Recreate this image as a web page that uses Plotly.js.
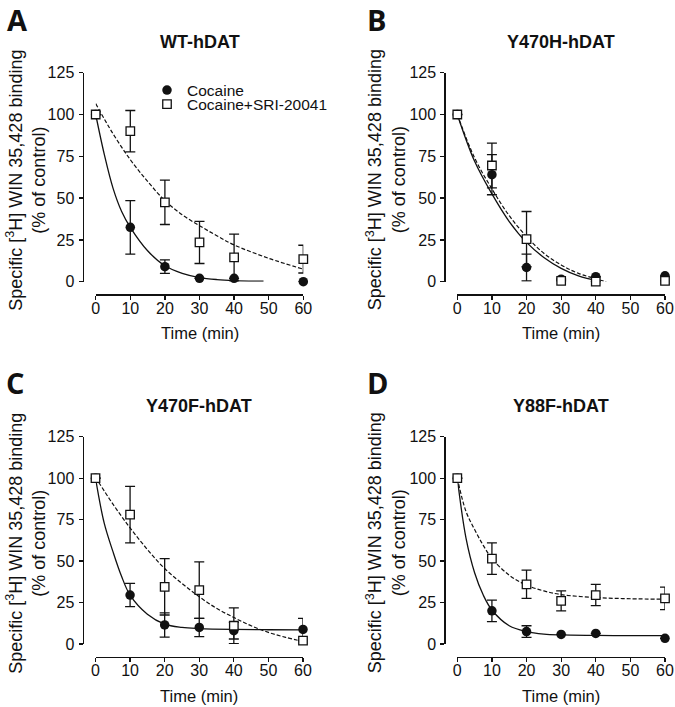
<!DOCTYPE html>
<html>
<head>
<meta charset="utf-8">
<script src="https://cdn.plot.ly/plotly-3.0.1.min.js"></script>
<style>html,body{margin:0;padding:0;background:#fff;}#chart{width:675px;height:707px;}</style>
</head>
<body>
<div id="chart"></div>
<script>
// ---------- data ----------
const times = [0, 10, 20, 30, 40, 60];
const xTicks = [0, 10, 20, 30, 40, 50, 60];
const yTicks = [0, 25, 50, 75, 100, 125];
const seriesNames = ['Cocaine', 'Cocaine+SRI-20041'];
const panelTitles = ['WT-hDAT', 'Y470H-hDAT', 'Y470F-hDAT', 'Y88F-hDAT'];
const panelLetters = ['A', 'B', 'C', 'D'];

// Panel A (WT-hDAT)
const cocA = [100, 32.5, 9, 2, 2, 0];
const errCocA = [null, 16, 4, null, null, null];
const sriA = [100, 90, 47.5, 23.5, 14.5, 13.5];
const errSriA = [null, 12.4, 13.3, 12.6, 14, 8.3];
const fitCocAx = [0, 2.5, 5, 7.5, 10, 15, 20, 25, 30, 35, 40, 48.5];
const fitCocAy = [100, 76, 56, 42, 32.5, 18.5, 9.5, 5, 2.5, 1.3, 0.7, 0.3];
const fitSriAx = [0, 5, 10, 15, 20, 25, 30, 35, 40, 50, 60];
const fitSriAy = [106.5, 88.5, 73, 60, 48.5, 40, 33.5, 27.5, 22, 14, 7.5];

// Panel B (Y470H-hDAT)
const cocB = [100, 64, 8.5, 1.5, 3, 3.5];
const errCocB = [null, 12, 8, null, null, null];
const sriB = [100, 69.5, 25.5, 0.5, 0, 0.5];
const errSriB = [null, 13.4, 16.5, null, null, null];
const fitCocBx = [0, 5, 10, 15, 20, 25, 30, 35, 41];
const fitCocBy = [100, 72, 52.5, 36, 23.5, 14.5, 8, 3.5, 0.3];
const fitSriBx = [0, 5, 10, 15, 20, 25, 30, 35, 43];
const fitSriBy = [100, 74, 55.5, 39.5, 27, 17, 10, 5, 0];

// Panel C (Y470F-hDAT)
const cocC = [100, 29.5, 11.5, 10, 8, 8.8];
const errCocC = [null, 7, 7.3, 5.5, 5, 6.7];
const sriC = [100, 78, 34.5, 32.5, 11, 2];
const errSriC = [null, 17, 17, 17, 10.8, null];
const fitCocCx = [0, 2.5, 5, 7.5, 10, 15, 20, 25, 30, 40, 50, 60];
const fitCocCy = [100, 73, 56, 41, 29.5, 18, 12, 10, 9.3, 8.8, 8.6, 8.5];
const fitSriCx = [0, 5, 10, 15, 20, 25, 30, 35, 40, 45, 50, 55, 60];
const fitSriCy = [100.5, 84.5, 70, 57, 45.5, 36.5, 28.5, 21.5, 16, 11, 7, 4, 1.5];

// Panel D (Y88F-hDAT)
const cocD = [100, 20, 7.5, 5.8, 6.4, 3.4];
const errCocD = [null, 6.5, 3.5, null, null, null];
const sriD = [100, 51.5, 36, 26, 29.5, 27.5];
const errSriD = [null, 9.5, 8.5, 6, 6.4, 6.8];
const fitCocDx = [0, 2.5, 5, 7.5, 10, 15, 20, 25, 30, 40, 50, 60];
const fitCocDy = [100, 64, 43, 29.5, 20.5, 11, 7.5, 6, 5.5, 5.2, 5, 5];
const fitSriDx = [0, 2.5, 5, 7.5, 10, 15, 20, 25, 30, 40, 50, 60];
const fitSriDy = [100, 80, 69, 59.5, 51.5, 41.5, 35.5, 32, 29.8, 28, 27.3, 27];

// ---------- layout geometry (pixels) ----------
const W = 675, H = 707;
const FONT = 'Liberation Sans, Arial, Helvetica, sans-serif';
const INK = '#111';
const panels = [
  {coc: cocA, eC: errCocA, sri: sriA, eS: errSriA, fcx: fitCocAx, fcy: fitCocAy, fsx: fitSriAx, fsy: fitSriAy,
   x0: 95.7, x1: 303.3, yTop: 72.7, yBot: 281.7, yLine: 82.5, xLine: 294.2, ytx: 26.5, letter: [17, 20]},
  {coc: cocB, eC: errCocB, sri: sriB, eS: errSriB, fcx: fitCocBx, fcy: fitCocBy, fsx: fitSriBx, fsy: fitSriBy,
   x0: 457.3, x1: 665, yTop: 72.7, yBot: 281.7, yLine: 444.3, xLine: 294.2, ytx: 386, letter: [376, 20]},
  {coc: cocC, eC: errCocC, sri: sriC, eS: errSriC, fcx: fitCocCx, fcy: fitCocCy, fsx: fitSriCx, fsy: fitSriCy,
   x0: 95.5, x1: 303, yTop: 436.7, yBot: 644, yLine: 82.5, xLine: 656.7, ytx: 26.5, letter: [15, 382]},
  {coc: cocD, eC: errCocD, sri: sriD, eS: errSriD, fcx: fitCocDx, fcy: fitCocDy, fsx: fitSriDx, fsy: fitSriDy,
   x0: 457.3, x1: 665, yTop: 436.7, yBot: 644, yLine: 444.3, xLine: 656.7, ytx: 386, letter: [377, 382]}
];

const traces = [];
const layout = {
  width: W, height: H,
  margin: {l: 0, r: 0, t: 0, b: 0},
  paper_bgcolor: '#fff', plot_bgcolor: 'rgba(0,0,0,0)',
  font: {family: FONT, color: INK, size: 16},
  showlegend: true,
  legend: {x: 147 / W, y: 1 - 90.5 / H, xanchor: 'left', yanchor: 'middle', bgcolor: 'rgba(0,0,0,0)',
           font: {size: 15.5, family: FONT, color: INK}, itemwidth: 30},
  legend2: {x: 147 / W, y: 1 - 104.5 / H, xanchor: 'left', yanchor: 'middle', bgcolor: 'rgba(0,0,0,0)',
            font: {size: 15.5, family: FONT, color: INK}, itemwidth: 30},
  annotations: []
};

panels.forEach((p, i) => {
  const n = i === 0 ? '' : String(i + 1);
  const xa = 'x' + n, ya = 'y' + n;
  const axCommon = {
    showgrid: false, zeroline: false, showline: true, linecolor: INK, linewidth: 1.3,
    ticks: 'outside', ticklen: 4, tickwidth: 1.3, tickcolor: INK,
    tickfont: {size: 16, family: FONT, color: INK}, anchor: 'free', fixedrange: true
  };
  layout['xaxis' + n] = Object.assign({}, axCommon, {
    domain: [p.x0 / W, p.x1 / W], range: [0, 60], tickvals: xTicks,
    position: 1 - p.xLine / H, ticklabelstandoff: -5
  });
  layout['yaxis' + n] = Object.assign({}, axCommon, {
    domain: [1 - p.yBot / H, 1 - p.yTop / H], range: [0, 125], tickvals: yTicks,
    position: p.yLine / W, ticklabelstandoff: 1
  });

  // fitted curves
  traces.push({x: p.fcx, y: p.fcy, xaxis: xa, yaxis: ya, type: 'scatter', mode: 'lines',
    line: {color: INK, width: 1.3, shape: 'spline'}, showlegend: false, hoverinfo: 'skip'});
  traces.push({x: p.fsx, y: p.fsy, xaxis: xa, yaxis: ya, type: 'scatter', mode: 'lines',
    line: {color: INK, width: 1.2, shape: 'spline', dash: '4px,2px'}, showlegend: false, hoverinfo: 'skip'});
  // data points
  traces.push({x: times, y: p.coc, xaxis: xa, yaxis: ya, type: 'scatter', mode: 'markers',
    name: seriesNames[0], legend: 'legend', showlegend: i === 0, cliponaxis: false,
    marker: {symbol: 'circle', size: 9.5, color: INK, line: {color: INK, width: 0}},
    error_y: {type: 'data', array: p.eC, visible: true, color: INK, thickness: 1.3, width: 5}});
  traces.push({x: times, y: p.sri, xaxis: xa, yaxis: ya, type: 'scatter', mode: 'markers',
    name: seriesNames[1], legend: 'legend2', showlegend: i === 0, cliponaxis: false,
    marker: {symbol: 'square', size: 8.5, color: '#fff', line: {color: INK, width: 1.3}},
    error_y: {type: 'data', array: p.eS, visible: true, color: INK, thickness: 1.3, width: 5}});

  const cx = (p.x0 + p.x1) / 2;
  // panel title
  layout.annotations.push({text: '<b>' + panelTitles[i] + '</b>', xref: 'paper', yref: 'paper',
    x: cx / W, y: 1 - (p.yTop - 30.5) / H, xanchor: 'center', yanchor: 'middle', showarrow: false,
    font: {size: 18, family: FONT, color: INK}});
  // x title
  layout.annotations.push({text: 'Time (min)', xref: 'paper', yref: 'paper',
    x: cx / W, y: 1 - (p.xLine + 39) / H, xanchor: 'center', yanchor: 'middle', showarrow: false,
    font: {size: 16.5, family: FONT, color: INK}});
  // y title
  layout.annotations.push({text: 'Specific [<sup>3</sup>H] WIN 35,428 binding<br>(% of control)',
    xref: 'paper', yref: 'paper', x: p.ytx / W, y: 1 - ((p.yTop + p.yBot) / 2 + 3) / H,
    xanchor: 'center', yanchor: 'middle', textangle: -90, showarrow: false, align: 'center',
    font: {size: 18, family: FONT, color: INK}});
  // panel letter
  layout.annotations.push({text: '<b>' + panelLetters[i] + '</b>', xref: 'paper', yref: 'paper',
    x: p.letter[0] / W, y: 1 - p.letter[1] / H, xanchor: 'center', yanchor: 'middle', showarrow: false,
    font: {size: 29, family: 'Open Sans, DejaVu Sans, sans-serif', color: INK}});
});

Plotly.newPlot('chart', traces, layout, {staticPlot: true, displayModeBar: false});
</script>
</body>
</html>
